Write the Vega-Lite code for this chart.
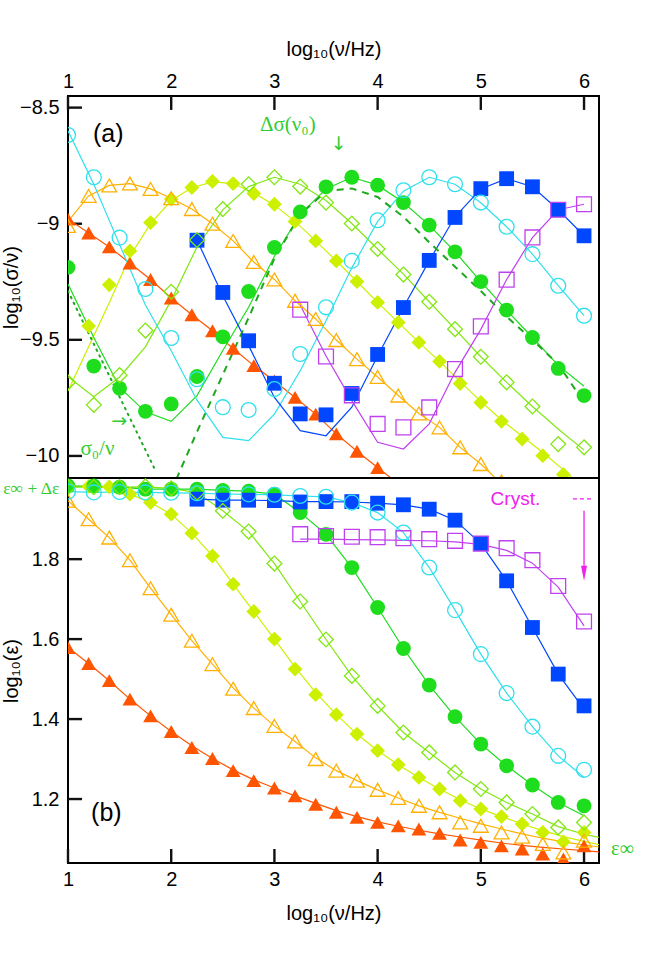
{
"$schema": "https://vega.github.io/schema/vega-lite/v6.json",
"padding": {"left": 0, "top": 38, "right": 5, "bottom": 5},
"background": "white",
"spacing": 0,
"bounds": "flush",
"config": {
  "font": "Liberation Sans",
  "view": {"stroke": "#000", "strokeWidth": 2},
  "axis": {"labelFontSize": 20, "titleFontSize": 20, "titleFontWeight": "normal", "labelFont": "Liberation Sans", "titleFont": "Liberation Sans", "domain": false, "grid": false, "ticks": false, "labelColor": "#000", "titleColor": "#000", "labelFlush": false, "labelOverlap": false}
},
"datasets": {
  "pa": [
    {"s":"r","x":1.0,"y":-8.98},{"s":"r","x":1.2,"y":-9.04},{"s":"r","x":1.4,"y":-9.10},{"s":"r","x":1.6,"y":-9.17},{"s":"r","x":1.8,"y":-9.24},{"s":"r","x":2.0,"y":-9.32},{"s":"r","x":2.2,"y":-9.392},{"s":"r","x":2.4,"y":-9.461},{"s":"r","x":2.6,"y":-9.537},{"s":"r","x":2.8,"y":-9.611},{"s":"r","x":3.0,"y":-9.677},{"s":"r","x":3.2,"y":-9.748},{"s":"r","x":3.4,"y":-9.82},{"s":"r","x":3.6,"y":-9.905},{"s":"r","x":3.8,"y":-9.98},{"s":"r","x":4.0,"y":-10.05},{"s":"r","x":4.2,"y":-10.12},
    {"s":"o","x":1.0,"y":-9.01},{"s":"o","x":1.2,"y":-8.88},{"s":"o","x":1.4,"y":-8.835},{"s":"o","x":1.6,"y":-8.827},{"s":"o","x":1.8,"y":-8.85},{"s":"o","x":2.0,"y":-8.89},{"s":"o","x":2.2,"y":-8.937},{"s":"o","x":2.4,"y":-9.0},{"s":"o","x":2.6,"y":-9.074},{"s":"o","x":2.8,"y":-9.165},{"s":"o","x":3.0,"y":-9.24},{"s":"o","x":3.2,"y":-9.332},{"s":"o","x":3.4,"y":-9.41},{"s":"o","x":3.6,"y":-9.501},{"s":"o","x":3.8,"y":-9.583},{"s":"o","x":4.0,"y":-9.66},{"s":"o","x":4.2,"y":-9.74},{"s":"o","x":4.4,"y":-9.817},{"s":"o","x":4.6,"y":-9.877},{"s":"o","x":4.8,"y":-9.963},{"s":"o","x":5.0,"y":-10.035},{"s":"o","x":5.2,"y":-10.11},
    {"s":"yd","x":1.2,"y":-9.44},{"s":"yd","x":1.4,"y":-9.263},{"s":"yd","x":1.6,"y":-9.117},{"s":"yd","x":1.8,"y":-8.995},{"s":"yd","x":2.0,"y":-8.894},{"s":"yd","x":2.2,"y":-8.844},{"s":"yd","x":2.4,"y":-8.818},{"s":"yd","x":2.6,"y":-8.827},{"s":"yd","x":2.8,"y":-8.87},{"s":"yd","x":3.0,"y":-8.916},{"s":"yd","x":3.2,"y":-8.99},{"s":"yd","x":3.4,"y":-9.074},{"s":"yd","x":3.6,"y":-9.16},{"s":"yd","x":3.8,"y":-9.249},{"s":"yd","x":4.0,"y":-9.339},{"s":"yd","x":4.2,"y":-9.425},{"s":"yd","x":4.4,"y":-9.511},{"s":"yd","x":4.6,"y":-9.593},{"s":"yd","x":4.8,"y":-9.688},{"s":"yd","x":5.0,"y":-9.77},{"s":"yd","x":5.2,"y":-9.851},{"s":"yd","x":5.4,"y":-9.927},{"s":"yd","x":5.6,"y":-9.999},{"s":"yd","x":5.8,"y":-10.08},
    {"s":"gd","x":1.0,"y":-9.683},{"s":"gd","x":1.25,"y":-9.78},{"s":"gd","x":1.5,"y":-9.652},{"s":"gd","x":1.75,"y":-9.46},{"s":"gd","x":2.0,"y":-9.293},{"s":"gd","x":2.25,"y":-9.07},{"s":"gd","x":2.5,"y":-8.937},{"s":"gd","x":2.75,"y":-8.83},{"s":"gd","x":3.0,"y":-8.80},{"s":"gd","x":3.25,"y":-8.84},{"s":"gd","x":3.5,"y":-8.909},{"s":"gd","x":3.75,"y":-8.999},{"s":"gd","x":4.0,"y":-9.109},{"s":"gd","x":4.25,"y":-9.219},{"s":"gd","x":4.5,"y":-9.336},{"s":"gd","x":4.75,"y":-9.454},{"s":"gd","x":5.0,"y":-9.573},{"s":"gd","x":5.25,"y":-9.683},{"s":"gd","x":5.5,"y":-9.787},{"s":"gd","x":5.75,"y":-9.949},{"s":"gd","x":6.0,"y":-9.963},
    {"s":"g","x":1.0,"y":-9.188},{"s":"g","x":1.25,"y":-9.613},{"s":"g","x":1.5,"y":-9.709},{"s":"g","x":1.75,"y":-9.808},{"s":"g","x":2.0,"y":-9.776},{"s":"g","x":2.25,"y":-9.658},{"s":"g","x":2.5,"y":-9.487},{"s":"g","x":2.75,"y":-9.292},{"s":"g","x":3.0,"y":-9.102},{"s":"g","x":3.25,"y":-8.949},{"s":"g","x":3.5,"y":-8.841},{"s":"g","x":3.75,"y":-8.80},{"s":"g","x":4.0,"y":-8.834},{"s":"g","x":4.25,"y":-8.909},{"s":"g","x":4.5,"y":-9.006},{"s":"g","x":4.75,"y":-9.121},{"s":"g","x":5.0,"y":-9.249},{"s":"g","x":5.25,"y":-9.372},{"s":"g","x":5.5,"y":-9.49},{"s":"g","x":5.75,"y":-9.623},{"s":"g","x":6.0,"y":-9.74},
    {"s":"c","x":1.0,"y":-8.618},{"s":"c","x":1.25,"y":-8.80},{"s":"c","x":1.5,"y":-9.06},{"s":"c","x":1.75,"y":-9.281},{"s":"c","x":2.0,"y":-9.492},{"s":"c","x":2.25,"y":-9.67},{"s":"c","x":2.5,"y":-9.79},{"s":"c","x":2.75,"y":-9.802},{"s":"c","x":3.0,"y":-9.712},{"s":"c","x":3.25,"y":-9.561},{"s":"c","x":3.5,"y":-9.36},{"s":"c","x":3.75,"y":-9.16},{"s":"c","x":4.0,"y":-8.985},{"s":"c","x":4.25,"y":-8.856},{"s":"c","x":4.5,"y":-8.80},{"s":"c","x":4.75,"y":-8.83},{"s":"c","x":5.0,"y":-8.909},{"s":"c","x":5.25,"y":-9.013},{"s":"c","x":5.5,"y":-9.131},{"s":"c","x":5.75,"y":-9.267},{"s":"c","x":6.0,"y":-9.396},
    {"s":"b","x":2.25,"y":-9.071},{"s":"b","x":2.5,"y":-9.296},{"s":"b","x":2.75,"y":-9.504},{"s":"b","x":3.0,"y":-9.687},{"s":"b","x":3.25,"y":-9.819},{"s":"b","x":3.5,"y":-9.823},{"s":"b","x":3.75,"y":-9.731},{"s":"b","x":4.0,"y":-9.563},{"s":"b","x":4.25,"y":-9.361},{"s":"b","x":4.5,"y":-9.158},{"s":"b","x":4.75,"y":-8.973},{"s":"b","x":5.0,"y":-8.849},{"s":"b","x":5.25,"y":-8.806},{"s":"b","x":5.5,"y":-8.841},{"s":"b","x":5.75,"y":-8.94},{"s":"b","x":6.0,"y":-9.052},
    {"s":"m","x":3.25,"y":-9.37},{"s":"m","x":3.5,"y":-9.572},{"s":"m","x":3.75,"y":-9.739},{"s":"m","x":4.0,"y":-9.862},{"s":"m","x":4.25,"y":-9.877},{"s":"m","x":4.5,"y":-9.791},{"s":"m","x":4.75,"y":-9.626},{"s":"m","x":5.0,"y":-9.442},{"s":"m","x":5.25,"y":-9.241},{"s":"m","x":5.5,"y":-9.059},{"s":"m","x":5.75,"y":-8.94},{"s":"m","x":6.0,"y":-8.916}
  ],
  "fa": [
    {"s":"r","x":1.0,"y":-8.98},{"s":"r","x":1.2,"y":-9.04},{"s":"r","x":1.4,"y":-9.10},{"s":"r","x":1.6,"y":-9.17},{"s":"r","x":1.8,"y":-9.24},{"s":"r","x":2.0,"y":-9.32},{"s":"r","x":2.2,"y":-9.392},{"s":"r","x":2.4,"y":-9.461},{"s":"r","x":2.6,"y":-9.537},{"s":"r","x":2.8,"y":-9.611},{"s":"r","x":3.0,"y":-9.677},{"s":"r","x":3.2,"y":-9.748},{"s":"r","x":3.4,"y":-9.82},{"s":"r","x":3.6,"y":-9.905},{"s":"r","x":3.8,"y":-9.98},{"s":"r","x":4.0,"y":-10.05},{"s":"r","x":4.2,"y":-10.12},
    {"s":"o","x":1.0,"y":-8.99},{"s":"o","x":1.2,"y":-8.88},{"s":"o","x":1.4,"y":-8.835},{"s":"o","x":1.6,"y":-8.827},{"s":"o","x":1.8,"y":-8.85},{"s":"o","x":2.0,"y":-8.89},{"s":"o","x":2.2,"y":-8.937},{"s":"o","x":2.4,"y":-9.0},{"s":"o","x":2.6,"y":-9.074},{"s":"o","x":2.8,"y":-9.165},{"s":"o","x":3.0,"y":-9.24},{"s":"o","x":3.2,"y":-9.332},{"s":"o","x":3.4,"y":-9.41},{"s":"o","x":3.6,"y":-9.501},{"s":"o","x":3.8,"y":-9.583},{"s":"o","x":4.0,"y":-9.66},{"s":"o","x":4.2,"y":-9.74},{"s":"o","x":4.4,"y":-9.817},{"s":"o","x":4.6,"y":-9.877},{"s":"o","x":4.8,"y":-9.963},{"s":"o","x":5.0,"y":-10.035},{"s":"o","x":5.2,"y":-10.12},
    {"s":"yd","x":1.0,"y":-9.72},{"s":"yd","x":1.2,"y":-9.53},{"s":"yd","x":1.4,"y":-9.34},{"s":"yd","x":1.6,"y":-9.14},{"s":"yd","x":1.8,"y":-9.0},{"s":"yd","x":2.0,"y":-8.90},{"s":"yd","x":2.2,"y":-8.845},{"s":"yd","x":2.4,"y":-8.82},{"s":"yd","x":2.6,"y":-8.827},{"s":"yd","x":2.8,"y":-8.867},{"s":"yd","x":3.0,"y":-8.92},{"s":"yd","x":3.2,"y":-8.99},{"s":"yd","x":3.4,"y":-9.074},{"s":"yd","x":3.6,"y":-9.16},{"s":"yd","x":3.8,"y":-9.249},{"s":"yd","x":4.0,"y":-9.339},{"s":"yd","x":4.2,"y":-9.425},{"s":"yd","x":4.4,"y":-9.511},{"s":"yd","x":4.6,"y":-9.593},{"s":"yd","x":4.8,"y":-9.68},{"s":"yd","x":5.0,"y":-9.765},{"s":"yd","x":5.2,"y":-9.845},{"s":"yd","x":5.4,"y":-9.915},{"s":"yd","x":5.6,"y":-9.985},{"s":"yd","x":5.8,"y":-10.06},{"s":"yd","x":6.0,"y":-10.14},
    {"s":"gd","x":1.0,"y":-9.659},{"s":"gd","x":1.25,"y":-9.745},{"s":"gd","x":1.5,"y":-9.66},{"s":"gd","x":1.75,"y":-9.53},{"s":"gd","x":2.0,"y":-9.33},{"s":"gd","x":2.25,"y":-9.10},{"s":"gd","x":2.5,"y":-8.94},{"s":"gd","x":2.75,"y":-8.84},{"s":"gd","x":3.0,"y":-8.80},{"s":"gd","x":3.25,"y":-8.83},{"s":"gd","x":3.5,"y":-8.90},{"s":"gd","x":3.75,"y":-8.999},{"s":"gd","x":4.0,"y":-9.109},{"s":"gd","x":4.25,"y":-9.217},{"s":"gd","x":4.5,"y":-9.336},{"s":"gd","x":4.75,"y":-9.454},{"s":"gd","x":5.0,"y":-9.573},{"s":"gd","x":5.25,"y":-9.683},{"s":"gd","x":5.5,"y":-9.787},{"s":"gd","x":5.75,"y":-9.884},{"s":"gd","x":6.0,"y":-9.975},
    {"s":"g","x":1.0,"y":-9.26},{"s":"g","x":1.25,"y":-9.49},{"s":"g","x":1.5,"y":-9.705},{"s":"g","x":1.75,"y":-9.81},{"s":"g","x":2.0,"y":-9.851},{"s":"g","x":2.25,"y":-9.74},{"s":"g","x":2.5,"y":-9.546},{"s":"g","x":2.75,"y":-9.36},{"s":"g","x":3.0,"y":-9.14},{"s":"g","x":3.25,"y":-8.96},{"s":"g","x":3.5,"y":-8.85},{"s":"g","x":3.75,"y":-8.80},{"s":"g","x":4.0,"y":-8.834},{"s":"g","x":4.25,"y":-8.909},{"s":"g","x":4.5,"y":-9.006},{"s":"g","x":4.75,"y":-9.121},{"s":"g","x":5.0,"y":-9.249},{"s":"g","x":5.25,"y":-9.372},{"s":"g","x":5.5,"y":-9.49},{"s":"g","x":5.75,"y":-9.61},{"s":"g","x":6.0,"y":-9.70},
    {"s":"c","x":1.0,"y":-8.60},{"s":"c","x":1.25,"y":-8.83},{"s":"c","x":1.5,"y":-9.09},{"s":"c","x":1.75,"y":-9.35},{"s":"c","x":2.0,"y":-9.547},{"s":"c","x":2.25,"y":-9.76},{"s":"c","x":2.5,"y":-9.92},{"s":"c","x":2.75,"y":-9.934},{"s":"c","x":3.0,"y":-9.82},{"s":"c","x":3.25,"y":-9.633},{"s":"c","x":3.5,"y":-9.418},{"s":"c","x":3.75,"y":-9.19},{"s":"c","x":4.0,"y":-8.99},{"s":"c","x":4.25,"y":-8.86},{"s":"c","x":4.5,"y":-8.80},{"s":"c","x":4.75,"y":-8.83},{"s":"c","x":5.0,"y":-8.91},{"s":"c","x":5.25,"y":-9.013},{"s":"c","x":5.5,"y":-9.131},{"s":"c","x":5.75,"y":-9.267},{"s":"c","x":6.0,"y":-9.396},
    {"s":"b","x":2.25,"y":-9.07},{"s":"b","x":2.5,"y":-9.31},{"s":"b","x":2.75,"y":-9.525},{"s":"b","x":3.0,"y":-9.748},{"s":"b","x":3.25,"y":-9.891},{"s":"b","x":3.5,"y":-9.913},{"s":"b","x":3.75,"y":-9.79},{"s":"b","x":4.0,"y":-9.57},{"s":"b","x":4.25,"y":-9.36},{"s":"b","x":4.5,"y":-9.16},{"s":"b","x":4.75,"y":-8.97},{"s":"b","x":5.0,"y":-8.85},{"s":"b","x":5.25,"y":-8.806},{"s":"b","x":5.5,"y":-8.841},{"s":"b","x":5.75,"y":-8.94},{"s":"b","x":6.0,"y":-9.052},
    {"s":"m","x":3.25,"y":-9.35},{"s":"m","x":3.5,"y":-9.57},{"s":"m","x":3.75,"y":-9.762},{"s":"m","x":4.0,"y":-9.941},{"s":"m","x":4.25,"y":-9.97},{"s":"m","x":4.5,"y":-9.862},{"s":"m","x":4.75,"y":-9.64},{"s":"m","x":5.0,"y":-9.455},{"s":"m","x":5.25,"y":-9.24},{"s":"m","x":5.5,"y":-9.06},{"s":"m","x":5.75,"y":-8.94},{"s":"m","x":6.0,"y":-8.916}
  ],
  "dash": [
    {"x":2.05,"y":-10.1},{"x":2.25,"y":-9.896},{"x":2.5,"y":-9.65},{"x":2.75,"y":-9.405},{"x":3.0,"y":-9.15},{"x":3.25,"y":-8.96},{"x":3.5,"y":-8.86},{"x":3.75,"y":-8.848},{"x":4.0,"y":-8.885},{"x":4.25,"y":-8.97},{"x":4.5,"y":-9.08},{"x":4.75,"y":-9.185},{"x":5.0,"y":-9.29},{"x":5.25,"y":-9.40},{"x":5.5,"y":-9.50},{"x":5.75,"y":-9.605},{"x":6.0,"y":-9.77}
  ],
  "dot": [{"x":1.0,"y":-9.29},{"x":1.84,"y":-10.056}],
  "ticka_x": [{"x":1,"y":-8.45,"y2":-8.51},{"x":2,"y":-8.45,"y2":-8.51},{"x":3,"y":-8.45,"y2":-8.51},{"x":4,"y":-8.45,"y2":-8.51},{"x":5,"y":-8.45,"y2":-8.51},{"x":6,"y":-8.45,"y2":-8.51}],
  "ticka_y": [{"x":1,"x2":1.136,"y":-10},{"x":1,"x2":1.136,"y":-9.5},{"x":1,"x2":1.136,"y":-9},{"x":1,"x2":1.136,"y":-8.5}],
  "tickb_x": [{"x":1,"y":1.04,"y2":1.075},{"x":2,"y":1.04,"y2":1.075},{"x":3,"y":1.04,"y2":1.075},{"x":4,"y":1.04,"y2":1.075},{"x":5,"y":1.04,"y2":1.075},{"x":6,"y":1.04,"y2":1.075}],
  "tickb_y": [{"x":1,"x2":1.136,"y":1.2},{"x":1,"x2":1.136,"y":1.4},{"x":1,"x2":1.136,"y":1.6},{"x":1,"x2":1.136,"y":1.8}],
  "pb": [
    {"s":"r","x":1.0,"y":1.579},{"s":"r","x":1.2,"y":1.539},{"s":"r","x":1.4,"y":1.496},{"s":"r","x":1.6,"y":1.45},{"s":"r","x":1.8,"y":1.408},{"s":"r","x":2.0,"y":1.369},{"s":"r","x":2.2,"y":1.329},{"s":"r","x":2.4,"y":1.3015},{"s":"r","x":2.6,"y":1.271},{"s":"r","x":2.8,"y":1.246},{"s":"r","x":3.0,"y":1.2275},{"s":"r","x":3.2,"y":1.208},{"s":"r","x":3.4,"y":1.187},{"s":"r","x":3.6,"y":1.167},{"s":"r","x":3.8,"y":1.154},{"s":"r","x":4.0,"y":1.1415},{"s":"r","x":4.2,"y":1.133},{"s":"r","x":4.4,"y":1.125},{"s":"r","x":4.6,"y":1.114},{"s":"r","x":4.8,"y":1.0975},{"s":"r","x":5.0,"y":1.0915},{"s":"r","x":5.2,"y":1.083},{"s":"r","x":5.4,"y":1.075},{"s":"r","x":5.6,"y":1.0625},{"s":"r","x":5.8,"y":1.05},{"s":"r","x":6.0,"y":1.083},
    {"s":"o","x":1.0,"y":1.946},{"s":"o","x":1.2,"y":1.90},{"s":"o","x":1.4,"y":1.854},{"s":"o","x":1.6,"y":1.7975},{"s":"o","x":1.8,"y":1.7275},{"s":"o","x":2.0,"y":1.661},{"s":"o","x":2.2,"y":1.596},{"s":"o","x":2.4,"y":1.5375},{"s":"o","x":2.6,"y":1.476},{"s":"o","x":2.8,"y":1.4275},{"s":"o","x":3.0,"y":1.383},{"s":"o","x":3.2,"y":1.344},{"s":"o","x":3.4,"y":1.30},{"s":"o","x":3.6,"y":1.271},{"s":"o","x":3.8,"y":1.246},{"s":"o","x":4.0,"y":1.223},{"s":"o","x":4.2,"y":1.2025},{"s":"o","x":4.4,"y":1.183},{"s":"o","x":4.6,"y":1.1667},{"s":"o","x":4.8,"y":1.1415},{"s":"o","x":5.0,"y":1.133},{"s":"o","x":5.2,"y":1.1165},{"s":"o","x":5.4,"y":1.106},{"s":"o","x":5.6,"y":1.0875},{"s":"o","x":5.8,"y":1.0665},{"s":"o","x":6.0,"y":1.096},
    {"s":"yd","x":1.0,"y":1.982},{"s":"yd","x":1.2,"y":1.982},{"s":"yd","x":1.4,"y":1.981},{"s":"yd","x":1.6,"y":1.9625},{"s":"yd","x":1.8,"y":1.9415},{"s":"yd","x":2.0,"y":1.9125},{"s":"yd","x":2.2,"y":1.865},{"s":"yd","x":2.4,"y":1.808},{"s":"yd","x":2.6,"y":1.7375},{"s":"yd","x":2.8,"y":1.669},{"s":"yd","x":3.0,"y":1.60},{"s":"yd","x":3.2,"y":1.525},{"s":"yd","x":3.4,"y":1.461},{"s":"yd","x":3.6,"y":1.411},{"s":"yd","x":3.8,"y":1.3625},{"s":"yd","x":4.0,"y":1.321},{"s":"yd","x":4.2,"y":1.286},{"s":"yd","x":4.4,"y":1.254},{"s":"yd","x":4.6,"y":1.225},{"s":"yd","x":4.8,"y":1.196},{"s":"yd","x":5.0,"y":1.175},{"s":"yd","x":5.2,"y":1.156},{"s":"yd","x":5.4,"y":1.1375},{"s":"yd","x":5.6,"y":1.1165},{"s":"yd","x":5.8,"y":1.093},{"s":"yd","x":6.0,"y":1.1165},
    {"s":"gd","x":1.0,"y":1.98},{"s":"gd","x":1.25,"y":1.98},{"s":"gd","x":1.5,"y":1.98},{"s":"gd","x":1.75,"y":1.982},{"s":"gd","x":2.0,"y":1.977},{"s":"gd","x":2.25,"y":1.9665},{"s":"gd","x":2.5,"y":1.921},{"s":"gd","x":2.75,"y":1.869},{"s":"gd","x":3.0,"y":1.789},{"s":"gd","x":3.25,"y":1.694},{"s":"gd","x":3.5,"y":1.599},{"s":"gd","x":3.75,"y":1.508},{"s":"gd","x":4.0,"y":1.433},{"s":"gd","x":4.25,"y":1.3665},{"s":"gd","x":4.5,"y":1.3165},{"s":"gd","x":4.75,"y":1.2665},{"s":"gd","x":5.0,"y":1.225},{"s":"gd","x":5.25,"y":1.1915},{"s":"gd","x":5.5,"y":1.1625},{"s":"gd","x":5.75,"y":1.129},{"s":"gd","x":6.0,"y":1.1415},
    {"s":"g","x":1.0,"y":1.983},{"s":"g","x":1.25,"y":1.983},{"s":"g","x":1.5,"y":1.98},{"s":"g","x":1.75,"y":1.975},{"s":"g","x":2.0,"y":1.975},{"s":"g","x":2.25,"y":1.975},{"s":"g","x":2.5,"y":1.972},{"s":"g","x":2.75,"y":1.97},{"s":"g","x":3.0,"y":1.9625},{"s":"g","x":3.25,"y":1.9165},{"s":"g","x":3.5,"y":1.862},{"s":"g","x":3.75,"y":1.779},{"s":"g","x":4.0,"y":1.679},{"s":"g","x":4.25,"y":1.5765},{"s":"g","x":4.5,"y":1.485},{"s":"g","x":4.75,"y":1.406},{"s":"g","x":5.0,"y":1.3375},{"s":"g","x":5.25,"y":1.283},{"s":"g","x":5.5,"y":1.235},{"s":"g","x":5.75,"y":1.1915},{"s":"g","x":6.0,"y":1.183},
    {"s":"c","x":1.0,"y":1.969},{"s":"c","x":1.25,"y":1.967},{"s":"c","x":1.5,"y":1.968},{"s":"c","x":1.75,"y":1.967},{"s":"c","x":2.0,"y":1.966},{"s":"c","x":2.25,"y":1.965},{"s":"c","x":2.5,"y":1.963},{"s":"c","x":2.75,"y":1.962},{"s":"c","x":3.0,"y":1.961},{"s":"c","x":3.25,"y":1.958},{"s":"c","x":3.5,"y":1.956},{"s":"c","x":3.75,"y":1.9415},{"s":"c","x":4.0,"y":1.9165},{"s":"c","x":4.25,"y":1.8665},{"s":"c","x":4.5,"y":1.779},{"s":"c","x":4.75,"y":1.6725},{"s":"c","x":5.0,"y":1.5625},{"s":"c","x":5.25,"y":1.465},{"s":"c","x":5.5,"y":1.381},{"s":"c","x":5.75,"y":1.308},{"s":"c","x":6.0,"y":1.273},
    {"s":"b","x":2.25,"y":1.95},{"s":"b","x":2.5,"y":1.9475},{"s":"b","x":2.75,"y":1.9475},{"s":"b","x":3.0,"y":1.9465},{"s":"b","x":3.25,"y":1.943},{"s":"b","x":3.5,"y":1.944},{"s":"b","x":3.75,"y":1.944},{"s":"b","x":4.0,"y":1.94},{"s":"b","x":4.25,"y":1.936},{"s":"b","x":4.5,"y":1.925},{"s":"b","x":4.75,"y":1.8975},{"s":"b","x":5.0,"y":1.839},{"s":"b","x":5.25,"y":1.7458},{"s":"b","x":5.5,"y":1.629},{"s":"b","x":5.75,"y":1.5125},{"s":"b","x":6.0,"y":1.433},
    {"s":"m","x":3.25,"y":1.8625},{"s":"m","x":3.5,"y":1.858},{"s":"m","x":3.75,"y":1.856},{"s":"m","x":4.0,"y":1.855},{"s":"m","x":4.25,"y":1.8525},{"s":"m","x":4.5,"y":1.85},{"s":"m","x":4.75,"y":1.8458},{"s":"m","x":5.0,"y":1.839},{"s":"m","x":5.25,"y":1.8275},{"s":"m","x":5.5,"y":1.7975},{"s":"m","x":5.75,"y":1.733},{"s":"m","x":6.0,"y":1.644}
  ],
  "fb": [
    {"s":"r","x":1.0,"y":1.579},{"s":"r","x":1.2,"y":1.539},{"s":"r","x":1.4,"y":1.496},{"s":"r","x":1.6,"y":1.45},{"s":"r","x":1.8,"y":1.408},{"s":"r","x":2.0,"y":1.369},{"s":"r","x":2.2,"y":1.333},{"s":"r","x":2.4,"y":1.3015},{"s":"r","x":2.6,"y":1.273},{"s":"r","x":2.8,"y":1.248},{"s":"r","x":3.0,"y":1.2275},{"s":"r","x":3.2,"y":1.208},{"s":"r","x":3.4,"y":1.189},{"s":"r","x":3.6,"y":1.171},{"s":"r","x":3.8,"y":1.156},{"s":"r","x":4.0,"y":1.143},{"s":"r","x":4.2,"y":1.132},{"s":"r","x":4.4,"y":1.122},{"s":"r","x":4.6,"y":1.113},{"s":"r","x":4.8,"y":1.105},{"s":"r","x":5.0,"y":1.097},{"s":"r","x":5.2,"y":1.09},{"s":"r","x":5.4,"y":1.084},{"s":"r","x":5.6,"y":1.079},{"s":"r","x":5.8,"y":1.075},{"s":"r","x":6.0,"y":1.071},{"s":"r","x":6.145,"y":1.068},
    {"s":"o","x":1.0,"y":1.946},{"s":"o","x":1.2,"y":1.90},{"s":"o","x":1.4,"y":1.854},{"s":"o","x":1.6,"y":1.7975},{"s":"o","x":1.8,"y":1.7275},{"s":"o","x":2.0,"y":1.661},{"s":"o","x":2.2,"y":1.596},{"s":"o","x":2.4,"y":1.5375},{"s":"o","x":2.6,"y":1.478},{"s":"o","x":2.8,"y":1.4275},{"s":"o","x":3.0,"y":1.383},{"s":"o","x":3.2,"y":1.344},{"s":"o","x":3.4,"y":1.303},{"s":"o","x":3.6,"y":1.271},{"s":"o","x":3.8,"y":1.246},{"s":"o","x":4.0,"y":1.223},{"s":"o","x":4.2,"y":1.2025},{"s":"o","x":4.4,"y":1.183},{"s":"o","x":4.6,"y":1.1667},{"s":"o","x":4.8,"y":1.152},{"s":"o","x":5.0,"y":1.138},{"s":"o","x":5.2,"y":1.125},{"s":"o","x":5.4,"y":1.113},{"s":"o","x":5.6,"y":1.102},{"s":"o","x":5.8,"y":1.093},{"s":"o","x":6.0,"y":1.085},{"s":"o","x":6.145,"y":1.08},
    {"s":"yd","x":1.0,"y":1.982},{"s":"yd","x":1.2,"y":1.982},{"s":"yd","x":1.4,"y":1.979},{"s":"yd","x":1.6,"y":1.9625},{"s":"yd","x":1.8,"y":1.9415},{"s":"yd","x":2.0,"y":1.9125},{"s":"yd","x":2.2,"y":1.865},{"s":"yd","x":2.4,"y":1.808},{"s":"yd","x":2.6,"y":1.7375},{"s":"yd","x":2.8,"y":1.669},{"s":"yd","x":3.0,"y":1.60},{"s":"yd","x":3.2,"y":1.53},{"s":"yd","x":3.4,"y":1.466},{"s":"yd","x":3.6,"y":1.411},{"s":"yd","x":3.8,"y":1.3625},{"s":"yd","x":4.0,"y":1.321},{"s":"yd","x":4.2,"y":1.286},{"s":"yd","x":4.4,"y":1.254},{"s":"yd","x":4.6,"y":1.225},{"s":"yd","x":4.8,"y":1.198},{"s":"yd","x":5.0,"y":1.175},{"s":"yd","x":5.2,"y":1.156},{"s":"yd","x":5.4,"y":1.1375},{"s":"yd","x":5.6,"y":1.121},{"s":"yd","x":5.8,"y":1.106},{"s":"yd","x":6.0,"y":1.094},{"s":"yd","x":6.145,"y":1.086},
    {"s":"gd","x":1.0,"y":1.98},{"s":"gd","x":1.25,"y":1.98},{"s":"gd","x":1.5,"y":1.98},{"s":"gd","x":1.75,"y":1.981},{"s":"gd","x":2.0,"y":1.977},{"s":"gd","x":2.25,"y":1.9665},{"s":"gd","x":2.5,"y":1.921},{"s":"gd","x":2.75,"y":1.869},{"s":"gd","x":3.0,"y":1.789},{"s":"gd","x":3.25,"y":1.694},{"s":"gd","x":3.5,"y":1.599},{"s":"gd","x":3.75,"y":1.508},{"s":"gd","x":4.0,"y":1.433},{"s":"gd","x":4.25,"y":1.3665},{"s":"gd","x":4.5,"y":1.3165},{"s":"gd","x":4.75,"y":1.2665},{"s":"gd","x":5.0,"y":1.225},{"s":"gd","x":5.25,"y":1.1915},{"s":"gd","x":5.5,"y":1.1625},{"s":"gd","x":5.75,"y":1.131},{"s":"gd","x":6.0,"y":1.112},{"s":"gd","x":6.145,"y":1.104},
    {"s":"g","x":1.0,"y":1.983},{"s":"g","x":1.25,"y":1.983},{"s":"g","x":1.5,"y":1.98},{"s":"g","x":1.75,"y":1.975},{"s":"g","x":2.0,"y":1.975},{"s":"g","x":2.25,"y":1.975},{"s":"g","x":2.5,"y":1.972},{"s":"g","x":2.75,"y":1.97},{"s":"g","x":3.0,"y":1.9625},{"s":"g","x":3.25,"y":1.9165},{"s":"g","x":3.5,"y":1.862},{"s":"g","x":3.75,"y":1.779},{"s":"g","x":4.0,"y":1.679},{"s":"g","x":4.25,"y":1.5765},{"s":"g","x":4.5,"y":1.485},{"s":"g","x":4.75,"y":1.406},{"s":"g","x":5.0,"y":1.3375},{"s":"g","x":5.25,"y":1.283},{"s":"g","x":5.5,"y":1.235},{"s":"g","x":5.75,"y":1.1915},{"s":"g","x":6.0,"y":1.158},
    {"s":"c","x":1.0,"y":1.969},{"s":"c","x":1.25,"y":1.967},{"s":"c","x":1.5,"y":1.968},{"s":"c","x":1.75,"y":1.967},{"s":"c","x":2.0,"y":1.966},{"s":"c","x":2.25,"y":1.965},{"s":"c","x":2.5,"y":1.963},{"s":"c","x":2.75,"y":1.962},{"s":"c","x":3.0,"y":1.961},{"s":"c","x":3.25,"y":1.958},{"s":"c","x":3.5,"y":1.956},{"s":"c","x":3.75,"y":1.9415},{"s":"c","x":4.0,"y":1.9165},{"s":"c","x":4.25,"y":1.8665},{"s":"c","x":4.5,"y":1.779},{"s":"c","x":4.75,"y":1.6725},{"s":"c","x":5.0,"y":1.5625},{"s":"c","x":5.25,"y":1.465},{"s":"c","x":5.5,"y":1.381},{"s":"c","x":5.75,"y":1.308},{"s":"c","x":6.0,"y":1.254},
    {"s":"b","x":2.25,"y":1.95},{"s":"b","x":2.5,"y":1.9475},{"s":"b","x":2.75,"y":1.9475},{"s":"b","x":3.0,"y":1.9465},{"s":"b","x":3.25,"y":1.944},{"s":"b","x":3.5,"y":1.944},{"s":"b","x":3.75,"y":1.943},{"s":"b","x":4.0,"y":1.94},{"s":"b","x":4.25,"y":1.936},{"s":"b","x":4.5,"y":1.925},{"s":"b","x":4.75,"y":1.8975},{"s":"b","x":5.0,"y":1.839},{"s":"b","x":5.25,"y":1.7458},{"s":"b","x":5.5,"y":1.629},{"s":"b","x":5.75,"y":1.5125},{"s":"b","x":6.0,"y":1.425},
    {"s":"m","x":3.25,"y":1.85},{"s":"m","x":3.5,"y":1.85},{"s":"m","x":3.75,"y":1.849},{"s":"m","x":4.0,"y":1.848},{"s":"m","x":4.25,"y":1.847},{"s":"m","x":4.5,"y":1.846},{"s":"m","x":4.75,"y":1.843},{"s":"m","x":5.0,"y":1.837},{"s":"m","x":5.25,"y":1.822},{"s":"m","x":5.5,"y":1.79},{"s":"m","x":5.75,"y":1.73},{"s":"m","x":6.0,"y":1.633}
  ]
},
"vconcat": [
  {
    "width": 531, "height": 382,
    "encoding": {
      "x": {"field": "x", "type": "quantitative", "scale": {"domain": [1, 6.145], "nice": false, "zero": false},
            "axis": {"orient": "top", "values": [1,2,3,4,5,6], "format": "d", "labelPadding": 5, "title": "log₁₀(ν/Hz)", "titleX": 265.5, "titleY": -47, "titleBaseline": "middle", "titleAlign": "center"}},
      "y": {"field": "y", "type": "quantitative", "scale": {"domain": [-10.095, -8.45], "nice": false, "zero": false},
            "axis": {"orient": "left", "values": [-10,-9.5,-9,-8.5], "format": "~g", "labelPadding": 9, "title": "log₁₀(σ/ν)", "titleX": -56.7, "titleY": 191, "titleAngle": -90, "titleBaseline": "middle", "titleAlign": "center"}}
    },
    "layer": [
      {"data": {"name": "ticka_x"}, "mark": {"type": "rule", "strokeWidth": 2.4, "color": "#111111", "opacity": 1}, "encoding": {"y2": {"field": "y2"}}},
      {"data": {"name": "ticka_y"}, "mark": {"type": "rule", "strokeWidth": 2.4, "color": "#111111", "opacity": 1}, "encoding": {"x2": {"field": "x2"}}},
      {"data": {"name": "fa"}, "mark": {"type": "line", "clip": true, "strokeWidth": 1.2},
       "encoding": {"color": {"field": "s", "type": "nominal", "legend": null, "scale": {"domain": ["r","o","yd","gd","g","c","b","m"], "range": ["#ff5500","#ffb000","#ccf000","#80e810","#1ddd1d","#2ee0ec","#0047ff","#c040f0"]}}, "detail": {"field": "s"}}},
      {"data": {"name": "dash"}, "mark": {"type": "line", "clip": true, "strokeWidth": 2, "strokeDash": [7, 6], "color": "#1fa81f"}, "encoding": {}},
      {"data": {"name": "dot"}, "mark": {"type": "line", "clip": true, "strokeWidth": 2, "strokeDash": [1.5, 5], "strokeCap": "round", "color": "#1fa81f"}, "encoding": {}},
      {"data": {"name": "pa"}, "transform": [{"filter": {"field": "s", "oneOf": ["r","yd","g","b"]}}],
       "mark": {"type": "point", "filled": true, "opacity": 1, "clip": true},
       "encoding": {
         "color": {"field": "s", "type": "nominal", "legend": null, "scale": {"domain": ["r","o","yd","gd","g","c","b","m"], "range": ["#ff5500","#ffb000","#ccf000","#80e810","#1ddd1d","#2ee0ec","#0047ff","#c040f0"]}},
         "shape": {"field": "s", "type": "nominal", "legend": null, "scale": {"domain": ["r","o","yd","gd","g","c","b","m"], "range": ["triangle-up","triangle-up","diamond","diamond","circle","circle","square","square"]}},
         "size": {"field": "s", "type": "nominal", "legend": null, "scale": {"domain": ["r","o","yd","gd","g","c","b","m"], "range": [220,220,250,250,125,125,115,115]}}}},
      {"data": {"name": "pa"}, "transform": [{"filter": {"field": "s", "oneOf": ["o","gd","c","m"]}}],
       "mark": {"type": "point", "filled": false, "opacity": 1, "strokeWidth": 1.3, "clip": true},
       "encoding": {
         "color": {"field": "s", "type": "nominal", "legend": null, "scale": {"domain": ["r","o","yd","gd","g","c","b","m"], "range": ["#ff5500","#ffb000","#ccf000","#80e810","#1ddd1d","#2ee0ec","#0047ff","#c040f0"]}},
         "shape": {"field": "s", "type": "nominal", "legend": null, "scale": {"domain": ["r","o","yd","gd","g","c","b","m"], "range": ["triangle-up","triangle-up","diamond","diamond","circle","circle","square","square"]}},
         "size": {"field": "s", "type": "nominal", "legend": null, "scale": {"domain": ["r","o","yd","gd","g","c","b","m"], "range": [220,220,250,250,125,125,115,115]}}}},
      {"data": {"values": [{"x": 1.39, "y": -8.613}]}, "mark": {"type": "text", "text": "(a)", "fontSize": 25, "font": "Liberation Sans", "color": "#000"}, "encoding": {}},
      {"data": {"values": [{"x": 3.13, "y": -8.575}]}, "mark": {"type": "text", "text": "Δσ(ν₀)", "fontSize": 21, "font": "Liberation Serif", "color": "#33cc33"}, "encoding": {}},
      {"data": {"values": [{"x": 3.622, "y": -8.658}]}, "mark": {"type": "text", "text": "↓", "fontSize": 19, "font": "DejaVu Sans", "color": "#33cc33"}, "encoding": {}},
      {"data": {"values": [{"x": 1.285, "y": -9.969}]}, "mark": {"type": "text", "text": "σ₀/ν", "fontSize": 21, "font": "Liberation Serif", "color": "#33cc33"}, "encoding": {}},
      {"data": {"values": [{"x": 1.497, "y": -9.848}]}, "mark": {"type": "text", "text": "→", "fontSize": 19, "font": "DejaVu Sans", "color": "#33cc33"}, "encoding": {}}
    ]
  },
  {
    "width": 531, "height": 385,
    "encoding": {
      "x": {"field": "x", "type": "quantitative", "scale": {"domain": [1, 6.145], "nice": false, "zero": false},
            "axis": {"orient": "bottom", "values": [1,2,3,4,5,6], "format": "d", "labelPadding": 6, "title": "log₁₀(ν/Hz)", "titleX": 265.5, "titleY": 50, "titleBaseline": "middle", "titleAlign": "center"}},
      "y": {"field": "y", "type": "quantitative", "scale": {"domain": [1.04, 2.003], "nice": false, "zero": false},
            "axis": {"orient": "left", "values": [1.2,1.4,1.6,1.8], "format": ".1f", "labelPadding": 9, "title": "log₁₀(ε)", "titleX": -56.7, "titleY": 192.5, "titleAngle": -90, "titleBaseline": "middle", "titleAlign": "center"}}
    },
    "layer": [
      {"data": {"name": "tickb_x"}, "mark": {"type": "rule", "strokeWidth": 2.4, "color": "#111111", "opacity": 1}, "encoding": {"y2": {"field": "y2"}}},
      {"data": {"name": "tickb_y"}, "mark": {"type": "rule", "strokeWidth": 2.4, "color": "#111111", "opacity": 1}, "encoding": {"x2": {"field": "x2"}}},
      {"data": {"name": "fb"}, "mark": {"type": "line", "clip": true, "strokeWidth": 1.2},
       "encoding": {"color": {"field": "s", "type": "nominal", "legend": null, "scale": {"domain": ["r","o","yd","gd","g","c","b","m"], "range": ["#ff5500","#ffb000","#ccf000","#80e810","#1ddd1d","#2ee0ec","#0047ff","#c040f0"]}}, "detail": {"field": "s"}}},
      {"data": {"name": "pb"}, "transform": [{"filter": {"field": "s", "oneOf": ["r","yd","g","b"]}}],
       "mark": {"type": "point", "filled": true, "opacity": 1, "clip": true},
       "encoding": {
         "color": {"field": "s", "type": "nominal", "legend": null, "scale": {"domain": ["r","o","yd","gd","g","c","b","m"], "range": ["#ff5500","#ffb000","#ccf000","#80e810","#1ddd1d","#2ee0ec","#0047ff","#c040f0"]}},
         "shape": {"field": "s", "type": "nominal", "legend": null, "scale": {"domain": ["r","o","yd","gd","g","c","b","m"], "range": ["triangle-up","triangle-up","diamond","diamond","circle","circle","square","square"]}},
         "size": {"field": "s", "type": "nominal", "legend": null, "scale": {"domain": ["r","o","yd","gd","g","c","b","m"], "range": [220,220,250,250,125,125,115,115]}}}},
      {"data": {"name": "pb"}, "transform": [{"filter": {"field": "s", "oneOf": ["o","gd","c","m"]}}],
       "mark": {"type": "point", "filled": false, "opacity": 1, "strokeWidth": 1.3, "clip": true},
       "encoding": {
         "color": {"field": "s", "type": "nominal", "legend": null, "scale": {"domain": ["r","o","yd","gd","g","c","b","m"], "range": ["#ff5500","#ffb000","#ccf000","#80e810","#1ddd1d","#2ee0ec","#0047ff","#c040f0"]}},
         "shape": {"field": "s", "type": "nominal", "legend": null, "scale": {"domain": ["r","o","yd","gd","g","c","b","m"], "range": ["triangle-up","triangle-up","diamond","diamond","circle","circle","square","square"]}},
         "size": {"field": "s", "type": "nominal", "legend": null, "scale": {"domain": ["r","o","yd","gd","g","c","b","m"], "range": [220,220,250,250,125,125,115,115]}}}},
      {"data": {"values": [{"x": 5.893, "y": 1.951}, {"x": 6.07, "y": 1.951}]}, "mark": {"type": "line", "strokeWidth": 1.3, "strokeDash": [4, 3], "color": "#f020f0"}, "encoding": {}},
      {"data": {"values": [{"x": 6.0, "y": 1.921}, {"x": 6.0, "y": 1.775}]}, "mark": {"type": "line", "strokeWidth": 1.3, "color": "#f020f0", "orient": "vertical"}, "encoding": {}},
      {"data": {"values": [{"x": 6.0, "y": 1.7645}]}, "mark": {"type": "point", "filled": true, "opacity": 1, "shape": "M-0.4,-1L0.4,-1L0,1Z", "size": 225, "color": "#f020f0"}, "encoding": {}},
      {"data": {"values": [{"x": 5.335, "y": 1.951}]}, "mark": {"type": "text", "text": "Cryst.", "fontSize": 19, "font": "Liberation Sans", "color": "#f020f0"}, "encoding": {}},
      {"data": {"values": [{"x": 1.372, "y": 1.166}]}, "mark": {"type": "text", "text": "(b)", "fontSize": 25, "font": "Liberation Sans", "color": "#000"}, "encoding": {}},
      {"data": {"values": [{"x": 0.916, "y": 1.976}]}, "mark": {"type": "text", "text": "ε∞ + Δε", "align": "right", "fontSize": 17.5, "font": "Liberation Serif", "color": "#33cc33"}, "encoding": {}},
      {"data": {"values": [{"x": 6.371, "y": 1.076}]}, "mark": {"type": "text", "text": "ε∞", "fontSize": 20, "font": "Liberation Serif", "color": "#33cc33"}, "encoding": {}}
    ]
  }
]
}
